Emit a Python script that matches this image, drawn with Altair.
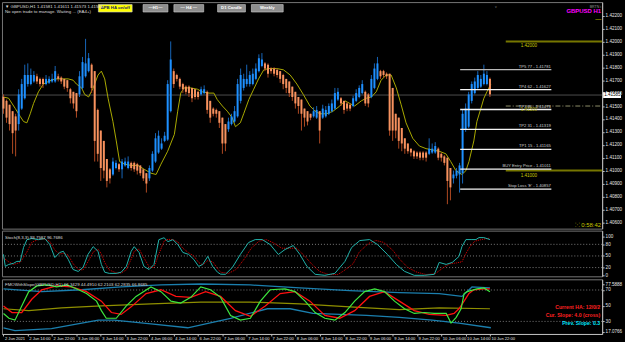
import altair as alt
import pandas as pd

FONT = "Liberation Sans"
W, H_MAIN, H_STO, H_IND = 604, 228, 46, 55
XDOM = [-0.49, 196.9]

# ---------------- Heikin-Ashi bars (GBPUSD H1) ----------------
bar_open = [
 1.4157,1.4154,1.4151,1.4146,1.4142,1.4136,1.4148,1.4156,1.4167,1.4167,
 1.4169,1.4173,1.4171,1.4171,1.4167,1.4168,1.4169,1.4169,1.4173,1.4172,
 1.4171,1.4170,1.4163,1.4161,1.4160,1.4159,1.4164,1.4173,1.4177,1.4182,
 1.4177,1.4147,1.4131,1.4123,1.4109,1.4101,1.4097,1.4102,1.4105,1.4101,
 1.4104,1.4102,1.4106,1.4106,1.4105,1.4104,1.4101,1.4098,1.4094,1.4100,
 1.4107,1.4114,1.4117,1.4123,1.4124,1.4146,1.4177,1.4174,1.4171,1.4167,
 1.4165,1.4165,1.4164,1.4163,1.4161,1.4159,1.4160,1.4161,1.4154,1.4148,
 1.4147,1.4146,1.4141,1.4136,1.4132,1.4136,1.4138,1.4142,1.4154,1.4164,
 1.4167,1.4167,1.4167,1.4171,1.4177,1.4181,1.4183,1.4182,1.4179,1.4179,
 1.4178,1.4177,1.4174,1.4171,1.4169,1.4165,1.4161,1.4157,1.4155,1.4148,
 1.4146,1.4144,1.4142,1.4141,1.4146,1.4141,1.4142,1.4144,1.4146,1.4148,
 1.4155,1.4156,1.4154,1.4152,1.4151,1.4150,1.4154,1.4157,1.4160,1.4161,
 1.4159,1.4157,1.4164,1.4171,1.4177,1.4177,1.4175,1.4175,1.4164,1.4144,
 1.4141,1.4133,1.4125,1.4121,1.4117,1.4115,1.4114,1.4114,1.4114,1.4114,
 1.4113,1.4114,1.4114,1.4117,1.4113,1.4111,1.4110,1.4102,1.4094,1.4096,
 1.4097,1.4098,1.4132,1.4134,1.4154,1.4160,1.4164,1.4165,1.4167,1.4167,
 1.4171]
bar_close = [
 1.4148,1.4141,1.4136,1.4129,1.4131,1.4159,1.4167,1.4174,1.4174,1.4174,
 1.4174,1.4169,1.4167,1.4167,1.4171,1.4171,1.4171,1.4177,1.4171,1.4169,
 1.4165,1.4164,1.4156,1.4152,1.4146,1.4173,1.4184,1.4183,1.4187,1.4164,
 1.4123,1.4113,1.4102,1.4100,1.4092,1.4094,1.4107,1.4106,1.4101,1.4107,
 1.4107,1.4107,1.4102,1.4101,1.4100,1.4098,1.4094,1.4090,1.4102,1.4113,
 1.4125,1.4127,1.4121,1.4127,1.4167,1.4186,1.4167,1.4171,1.4165,1.4163,
 1.4161,1.4160,1.4156,1.4157,1.4157,1.4163,1.4163,1.4147,1.4141,1.4144,
 1.4144,1.4137,1.4121,1.4121,1.4138,1.4142,1.4146,1.4167,1.4174,1.4171,
 1.4171,1.4174,1.4175,1.4179,1.4187,1.4186,1.4179,1.4175,1.4177,1.4175,
 1.4174,1.4171,1.4167,1.4164,1.4160,1.4157,1.4152,1.4150,1.4144,1.4141,
 1.4138,1.4141,1.4146,1.4147,1.4131,1.4148,1.4147,1.4150,1.4152,1.4160,
 1.4161,1.4152,1.4147,1.4148,1.4148,1.4156,1.4160,1.4164,1.4167,1.4152,
 1.4152,1.4171,1.4179,1.4183,1.4173,1.4174,1.4173,1.4131,1.4131,1.4131,
 1.4123,1.4121,1.4117,1.4115,1.4114,1.4111,1.4111,1.4110,1.4110,1.4110,
 1.4117,1.4117,1.4119,1.4110,1.4110,1.4106,1.4092,1.4087,1.4097,1.4100,
 1.4104,1.4144,1.4148,1.4159,1.4167,1.4169,1.4174,1.4171,1.4175,1.4174,
 1.4159]
bar_high = [
 1.4159,1.4155,1.4151,1.4146,1.4144,1.4163,1.4171,1.4182,1.4183,1.4179,
 1.4177,1.4175,1.4172,1.4172,1.4174,1.4173,1.4175,1.4181,1.4175,1.4173,
 1.4171,1.4170,1.4164,1.4161,1.4160,1.4177,1.4188,1.4202,1.4191,1.4183,
 1.4177,1.4148,1.4131,1.4123,1.4109,1.4102,1.4110,1.4108,1.4106,1.4109,
 1.4110,1.4111,1.4107,1.4107,1.4106,1.4104,1.4101,1.4098,1.4104,1.4115,
 1.4129,1.4131,1.4125,1.4130,1.4170,1.4200,1.4179,1.4175,1.4172,1.4168,
 1.4166,1.4166,1.4164,1.4163,1.4162,1.4165,1.4166,1.4162,1.4154,1.4149,
 1.4148,1.4146,1.4141,1.4136,1.4141,1.4144,1.4150,1.4171,1.4179,1.4175,
 1.4182,1.4177,1.4179,1.4183,1.4190,1.4191,1.4184,1.4183,1.4180,1.4180,
 1.4179,1.4177,1.4175,1.4171,1.4169,1.4165,1.4161,1.4157,1.4155,1.4148,
 1.4146,1.4144,1.4149,1.4150,1.4146,1.4151,1.4150,1.4152,1.4155,1.4164,
 1.4164,1.4157,1.4154,1.4153,1.4152,1.4158,1.4163,1.4166,1.4170,1.4162,
 1.4160,1.4174,1.4183,1.4188,1.4178,1.4178,1.4176,1.4175,1.4164,1.4144,
 1.4141,1.4133,1.4125,1.4121,1.4117,1.4116,1.4115,1.4115,1.4115,1.4115,
 1.4125,1.4121,1.4122,1.4118,1.4114,1.4112,1.4110,1.4102,1.4100,1.4102,
 1.4106,1.4147,1.4152,1.4161,1.4169,1.4172,1.4177,1.4174,1.4182,1.4177,
 1.4172]
bar_low = [
 1.4144,1.4137,1.4131,1.4113,1.4111,1.4131,1.4147,1.4155,1.4165,1.4166,
 1.4168,1.4167,1.4165,1.4164,1.4166,1.4167,1.4168,1.4168,1.4169,1.4167,
 1.4163,1.4161,1.4152,1.4148,1.4141,1.4157,1.4163,1.4172,1.4176,1.4160,
 1.4107,1.4107,1.4092,1.4094,1.4087,1.4090,1.4096,1.4101,1.4099,1.4094,
 1.4103,1.4101,1.4100,1.4099,1.4097,1.4096,1.4092,1.4083,1.4092,1.4099,
 1.4106,1.4113,1.4116,1.4122,1.4123,1.4145,1.4164,1.4169,1.4163,1.4160,
 1.4159,1.4157,1.4153,1.4155,1.4155,1.4158,1.4159,1.4144,1.4137,1.4142,
 1.4141,1.4133,1.4113,1.4115,1.4130,1.4135,1.4137,1.4141,1.4152,1.4162,
 1.4165,1.4165,1.4166,1.4170,1.4176,1.4180,1.4177,1.4172,1.4175,1.4173,
 1.4172,1.4168,1.4163,1.4160,1.4157,1.4154,1.4148,1.4144,1.4131,1.4134,
 1.4135,1.4139,1.4141,1.4140,1.4121,1.4140,1.4141,1.4143,1.4145,1.4147,
 1.4154,1.4150,1.4144,1.4146,1.4146,1.4149,1.4153,1.4156,1.4159,1.4150,
 1.4149,1.4156,1.4163,1.4170,1.4171,1.4172,1.4171,1.4127,1.4123,1.4125,
 1.4117,1.4115,1.4113,1.4113,1.4111,1.4109,1.4109,1.4108,1.4108,1.4107,
 1.4112,1.4113,1.4113,1.4108,1.4107,1.4104,1.4074,1.4077,1.4090,1.4094,
 1.4083,1.4090,1.4130,1.4133,1.4152,1.4159,1.4163,1.4164,1.4166,1.4166,
 1.4157]

# moving average (bar index, price)
ma_pts = [(0,1.4157),(1.7,1.4156),(3.9,1.4148),(5.5,1.4142),(6.6,1.4138),(7.7,1.4137),(8.8,1.4144),
 (9.9,1.4152),(11.5,1.4161),(13.1,1.4167),(14.8,1.4169),(16.9,1.4171),(19.1,1.4171),(21.3,1.4171),
 (22.9,1.4170),(24.0,1.4167),(25.7,1.4164),(26.7,1.4159),(28.0,1.4157),(29.5,1.4164),(31.1,1.4174),
 (32.2,1.4177),(33.3,1.4171),(34.4,1.4156),(36.0,1.4138),(37.1,1.4123),(38.2,1.4107),(39.8,1.4105),
 (42.0,1.4104),(44.2,1.4104),(46.3,1.4101),(48.5,1.4098),(50.2,1.4097),(51.8,1.4105),(54.0,1.4115),
 (56.2,1.4128),(57.3,1.4146),(58.3,1.4160),(59.4,1.4164),(61.6,1.4164),(63.8,1.4163),(65.4,1.4161),
 (67.6,1.4160),(69.2,1.4160),(70.3,1.4155),(72.0,1.4150),(73.6,1.4146),(75.2,1.4141),(76.3,1.4134),
 (77.9,1.4137),(79.0,1.4144),(80.7,1.4155),(82.3,1.4163),(83.9,1.4171),(85.6,1.4178),(87.2,1.4179),
 (89.9,1.4179),(92.1,1.4178),(94.3,1.4174),(96.5,1.4167),(98.6,1.4159),(100.8,1.4150),(102.5,1.4146),
 (104.1,1.4144),(106.3,1.4144),(108.4,1.4146),(110.6,1.4150),(112.3,1.4154),(113.9,1.4152),
 (115.5,1.4150),(117.7,1.4154),(119.3,1.4156),(121.0,1.4157),(122.6,1.4161),(124.2,1.4170),
 (125.9,1.4174),(127.5,1.4174),(129.2,1.4164),(130.8,1.4151),(132.4,1.4137),(134.6,1.4125),
 (136.8,1.4119),(139.0,1.4117),(141.1,1.4116),(143.3,1.4115),(145.5,1.4113),(147.1,1.4107),
 (148.8,1.4100),(150.8,1.4097),(152.1,1.4100),(153.1,1.4107),(154.7,1.4123),(155.7,1.4138),
 (157.0,1.4148),(158.0,1.4156),(159.0,1.4161),(160.3,1.4167)]

price_ticks = [1.4060,1.4070,1.4080,1.4090,1.4100,1.4110,1.4120,1.4130,1.4140,1.4150,
               1.4160,1.4170,1.4180,1.4190,1.4200,1.4210,1.4220]
current_price = 1.41585

tp_price = [1.41781, 1.41627, 1.41473, 1.41319, 1.41165, 1.41011, 1.40857]
tp_text = ["TP5 77 - 1.41781", "TP4 62 - 1.41627", "TP3 46 - 1.41473", "TP2 31 - 1.41319",
           "TP1 15 - 1.41165", "BUY Entry Price - 1.41011", "Stop Loss 'E' - 1.40857"]
key_price = [1.42000, 1.41000]
key_text = ["1.42000", "1.41000"]
mid_price = [1.41500]
mid_text = ["1.41500"]

# stochastic (bar index, value)
sto_main = [(0,54),(0.6,23),(1.7,28),(3.3,31),(4.4,36),(5.5,36),(6.6,72),(7.7,92),(9.3,95),(11.5,92),
 (13.6,95),(15.2,80),(16.9,46),(18.5,59),(19.7,62),(21.3,41),(22.9,15),(24.6,10),(26.2,21),(27.8,54),
 (29.5,74),(31.1,62),(32.2,28),(33.3,8),(34.8,5),(37.1,5),(38.7,8),(40.4,23),(42.0,62),(43.0,74),
 (44.6,59),(46.2,23),(47.9,15),(49.5,28),(51.1,92),(52.8,97),(54.1,87),(55.7,92),(57.4,79),(59.0,59),
 (60.9,54),(62.6,41),(64.2,23),(65.5,28),(67.2,49),(68.8,23),(70.4,8),(71.4,3),(73.0,2.6),(75.3,20.5),
 (77.9,53.8),(80.6,84.6),(82.8,92.3),(85.1,92.3),(87.7,79.5),(90.4,53.8),(92.6,66.7),(95.3,76.9),
 (97.5,53.8),(99.8,23.1),(102.5,2.6),(105.7,0),(109.0,5.1),(112.3,35.9),(114.5,71.8),(117.2,89.7),
 (120.4,92.3),(123.0,79.5),(126.3,53.8),(129.2,28.2),(131.9,10.3),(135.1,0),(138.4,0),(141.7,2.6),
 (143.3,33.3),(145.6,28.2),(147.6,33.3),(149.8,48.7),(150.8,74.4),(152.1,92.3),(153.8,92.3),
 (155.4,92.3),(156.4,97.4),(158.0,97.4),(160.0,92.3)]
sto_signal = [(0,45),(1.7,35),(3.3,28),(5.5,33),(7.7,60),(9.3,85),(11.5,93),(13.6,93),(15.2,88),
 (16.9,65),(18.5,55),(19.7,57),(21.3,52),(22.9,30),(24.6,15),(26.2,14),(27.8,35),(29.5,60),(31.1,68),
 (32.2,55),(33.3,33),(34.8,14),(37.1,6),(38.7,6),(40.4,14),(42,42),(43,62),(44.6,68),(46.2,45),
 (47.9,22),(49.5,20),(51.1,55),(52.8,88),(54.1,93),(55.7,92),(57.4,86),(59,70),(60.9,58),(62.6,50),
 (64.2,33),(65.5,27),(67.2,38),(68.8,35),(70.4,18),(71.4,8),(74,5),(76.5,15),(79,40),(81.5,70),
 (84,88),(86.5,92),(89,83),(91.5,70),(94,70),(96.5,70),(99,50),(101.5,28),(104,10),(107,2),(110,2),
 (112,12),(115,30),(117,60),(120,82),(122.5,90),(125,85),(128,65),(130.5,40),(133,20),(136,8),
 (139,2),(142,4),(145,22),(147,30),(149,32),(150.8,35),(152,55),(153.5,75),(155,88),(157,92),
 (159,95),(160,96)]
sto_levels = [20, 50, 80]
sto_ticks = [0, 20, 50, 80, 100]

# lower indicator panel (bar index, value)
ind_green = [(0,40.1),(1.8,34.0),(3.8,31.6),(6.0,49.7),(8.3,67.9),(11.0,75.2),(14.2,76.4),(17.5,73.9),
 (20.8,76.4),(24.0,71.5),(27.3,65.5),(30.6,55.8),(32.2,43.7),(33.8,34.0),(37.1,34.0),(40.4,49.7),
 (43.6,61.8),(48.5,73.9),(51.8,67.9),(55.1,55.8),(58.3,53.4),(61.6,60.6),(64.9,73.9),(68.1,70.3),
 (71.4,60.6),(74.7,37.6),(77.9,31.6),(81.2,34.0),(84.5,55.8),(87.7,70.3),(92.6,71.5),(95.9,67.9),
 (99.2,55.8),(102.5,41.3),(105.7,34.0),(109.0,31.6),(112.3,41.3),(115.5,55.8),(118.8,67.9),
 (122.1,71.5),(125.3,67.9),(128.6,55.8),(131.9,46.1),(135.1,40.1),(138.4,41.3),(141.7,40.1),
 (145.6,40.1),(147.2,27.9),(148.9,35.2),(150.5,46.1),(151.5,65.5),(152.5,67.9),(155.7,71.5),
 (158.0,72.7),(160.0,67.9)]
ind_red = [(0,49.7),(2.8,41.3),(6.0,41.3),(9.3,58.2),(12.6,70.3),(17.5,75.2),(22.4,73.9),(27.3,67.9),
 (32.2,55.8),(35.5,41.3),(38.7,38.9),(42.0,48.5),(46.9,65.5),(51.8,70.3),(56.7,61.8),(61.6,60.6),
 (66.5,67.9),(71.4,61.8),(76.3,43.7),(81.2,36.4),(86.1,49.7),(91.0,65.5),(95.9,67.9),(100.8,55.8),
 (105.7,37.6),(110.6,34.0),(115.5,43.7),(120.4,61.8),(125.3,67.9),(130.2,55.8),(135.1,43.7),
 (140.0,38.9),(145.6,37.6),(148.2,40.1),(149.8,46.1),(151.5,55.8),(153.1,65.5),(154.7,70.3),
 (158.0,71.5),(160.0,71.5)]
ind_olive = [(0,46.1),(8.3,43.7),(19.1,47.3),(32.2,49.7),(48.5,52.2),(64.9,54.6),(81.2,54.6),
 (97.5,52.2),(113.9,48.5),(130.2,44.9),(143.3,47.3),(160.0,46.1)]
ind_upper = [(0,71.5),(12.6,67.9),(25.7,70.3),(38.7,73.9),(51.8,76.4),(64.9,77.6),(81.2,76.4),
 (97.5,72.7),(113.9,69.1),(130.2,66.7),(143.3,65.5),(150.8,61.8),(154.1,73.9),(160.0,72.7)]
ind_lower = [(0,21.9),(3.8,18.3),(15.8,20.7),(31.2,31.6),(36.4,31.6),(48.5,26.8),(60.6,21.9),
 (74.7,34.0),(86.8,46.1),(94.3,46.1),(101.8,40.1),(119.4,37.6),(130.2,35.2),(141.0,31.6),
 (149.8,27.9),(160.3,21.9)]
ind_levels = [30, 70]
ind_ticks = [17.0766, 30, 50, 70, 77.5888]

time_ticks = [0, 8, 16, 24, 32, 40, 48, 56, 64, 72, 80, 88, 96, 104, 112, 120, 128, 136, 144, 152, 160]
time_labels = ["2 Jun 2021", "2 Jun 14:00", "2 Jun 22:00", "3 Jun 06:00", "3 Jun 14:00", "3 Jun 22:00",
               "4 Jun 06:00", "4 Jun 14:00", "6 Jun 22:00", "7 Jun 06:00", "7 Jun 14:00", "7 Jun 22:00",
               "8 Jun 06:00", "8 Jun 14:00", "8 Jun 22:00", "9 Jun 06:00", "9 Jun 14:00", "9 Jun 22:00",
               "10 Jun 06:00", "10 Jun 14:00", "10 Jun 22:00"]

# ---------------- helpers ----------------
def pts(p):
    return pd.DataFrame({"i": [a for a, _ in p], "v": [b for _, b in p]})

def txt(text, x, y, color="#d8d8d8", size=4.6, align="left", weight="normal", baseline="middle"):
    return alt.Chart(pd.DataFrame({"t": [text]})).mark_text(
        align=align, baseline=baseline, color=color, fontSize=size, fontWeight=weight, font=FONT
    ).encode(text="t:N", x=alt.value(x), y=alt.value(y))

def axis_right(values, **kw):
    return alt.Axis(orient="right", values=values, labelFontSize=4.6, labelColor="#e6e6e6",
                    tickColor="#bdbdbd", tickSize=2, labelPadding=1, domainColor="#bdbdbd",
                    grid=False, title=None, labelFont=FONT, labelOverlap=False, **kw)

xs = alt.Scale(domain=XDOM, nice=False, zero=False)
XI = alt.X("i:Q", scale=xs, axis=None)
top_p = 1.423046
ys = alt.Scale(domain=[top_p - H_MAIN * 0.01 / 130, top_p], nice=False, zero=False)
price_axis = axis_right(price_ticks, format=".5f")

def PY(field):
    return alt.Y(field, scale=ys, axis=price_axis)

bars = pd.DataFrame({"i": list(range(len(bar_open))), "o": bar_open, "h": bar_high,
                     "l": bar_low, "c": bar_close})
is_up = "datum.c >= datum.o"

cur = alt.Chart(pd.DataFrame({"p": [current_price]})).mark_rule(color="#4d4d4d", strokeWidth=1).encode(
    y=PY("p:Q"))

key_df = pd.DataFrame({"p": key_price, "t": key_text})
key_rules = alt.Chart(key_df).mark_rule(color="#767600", strokeWidth=2).encode(
    x=alt.X(datum=165.2, scale=xs, axis=None), x2=alt.X2(datum=XDOM[1]), y=PY("p:Q"))
key_lbl = alt.Chart(key_df).mark_text(align="left", baseline="top", dy=2, color="#c8c800",
                                      fontSize=4.6, font=FONT).encode(
    x=alt.X(datum=170.1, scale=xs, axis=None), y=PY("p:Q"), text="t:N")
mid_df = pd.DataFrame({"p": mid_price, "t": mid_text})
mid_rule = alt.Chart(mid_df).mark_rule(color="#8f8f6a", strokeWidth=1, strokeDash=[5, 2, 1, 2]).encode(
    x=alt.X(datum=165.2, scale=xs, axis=None), x2=alt.X2(datum=XDOM[1]), y=PY("p:Q"))
mid_lbl = alt.Chart(mid_df).mark_text(align="left", baseline="top", dy=1, color="#a0a000",
                                      fontSize=4.6, font=FONT).encode(
    x=alt.X(datum=170.1, scale=xs, axis=None), y=PY("p:Q"), text="t:N")

ma = alt.Chart(pts(ma_pts)).mark_line(color="#a9a900", strokeWidth=1).encode(x=XI, y=PY("v:Q"))

wicks = alt.Chart(bars).mark_rule(strokeWidth=1).encode(
    x=XI, y=PY("l:Q"), y2="h:Q",
    color=alt.condition(is_up, alt.value("#1766b8"), alt.value("#b04a22")))
bodies = alt.Chart(bars).mark_rule(strokeWidth=2).encode(
    x=XI, y=PY("o:Q"), y2="c:Q",
    color=alt.condition(is_up, alt.value("#1e90ff"), alt.value("#f7925f")))

tp_df = pd.DataFrame({"p": tp_price, "t": tp_text})
tp_rules = alt.Chart(tp_df).mark_rule(strokeWidth=1.3).encode(
    x=alt.X(datum=150.2, scale=xs, axis=None), x2=alt.X2(datum=180.2), y=PY("p:Q"),
    color=alt.condition("datum.p > 1.4170", alt.value("#b8b8b8"), alt.value("#f4f4f4")))
tp_lbl = alt.Chart(tp_df).mark_text(align="right", baseline="bottom", dy=-1, color="#cfcfcf",
                                    fontSize=4.2, font=FONT).encode(
    x=alt.X(datum=180.0, scale=xs, axis=None), y=PY("p:Q"), text="t:N")

cur_box = alt.Chart(pd.DataFrame({"p": [current_price]})).mark_rule(color="#ffffff", strokeWidth=6).encode(
    x=alt.value(W + 1), x2=alt.value(W + 19), y=PY("p:Q"))
cur_txt = alt.Chart(pd.DataFrame({"p": [current_price], "t": ["1.41585"]})).mark_text(
    align="left", baseline="middle", color="#000000", fontSize=4.6, font=FONT).encode(
    x=alt.value(W + 2), y=PY("p:Q"), text="t:N")

btn_df = pd.DataFrame({
    "t": ["APB HA on/off", "\u2014H1\u2014", "\u2014 H4 \u2014", "D1 Candle", "Weekly"],
    "x0": [97, 142, 173, 217, 251], "x1": [131, 167, 203, 245, 283],
    "fill": ["#ffff00", "#8e8e8e", "#8e8e8e", "#8e8e8e", "#8e8e8e"],
    "fg": ["#1a1a60", "#ffffff", "#ffffff", "#ffffff", "#ffffff"]})
btn_df["xm"] = [(a + b) / 2 for a, b in zip(btn_df["x0"], btn_df["x1"])]
btn_rect = alt.Chart(btn_df).mark_rect(stroke="#d0d0d0", strokeWidth=0.6).encode(
    x=alt.X("x0:Q", scale=None), x2="x1:Q", y=alt.value(2.5), y2=alt.value(10),
    fill=alt.Fill("fill:N", scale=None))
btn_txt = alt.Chart(btn_df).mark_text(fontSize=4.3, fontWeight="bold", font=FONT, baseline="middle").encode(
    x=alt.X("xm:Q", scale=None), y=alt.value(6.3), text="t:N", color=alt.Color("fg:N", scale=None))

main = alt.layer(
    cur, key_rules, mid_rule, ma, wicks, bodies, tp_rules, tp_lbl, key_lbl, mid_lbl, cur_box, cur_txt,
    btn_rect, btn_txt,
    txt("\u25bc GBPUSD,H1  1.41581 1.41611 1.41573 1.41585", 3, 2.5, "#dcdcdc", 4.4, baseline="top"),
    txt("No open trade to manage. Waiting ... (EA4+)", 3, 8, "#dcdcdc", 4.4, baseline="top"),
    txt("BRTN i", 603, 2.5, "#9a9a9a", 3.6, align="right", baseline="top"),
    txt("GBPUSD H1", 603, 6, "#ff00ff", 6, align="right", weight="bold", baseline="top"),
    txt("\u2014", 603, 17, "#e8e800", 6, align="right"),
    txt("v", 497, 2.5, "#8a8a8a", 3.5, align="center", baseline="top"),
    txt("\u2059 0:58:42", 603, 224.5, "#c8c800", 6, align="right"),
).properties(width=W, height=H_MAIN)

# ---------------- stochastic ----------------
ss = alt.Scale(domain=[-2.6, 115.4], nice=False, zero=False)
sto_axis = axis_right(sto_ticks, format="d")
sto_lv = alt.Chart(pd.DataFrame({"v": sto_levels})).mark_rule(
    color="#9a9a9a", strokeWidth=0.8, strokeDash=[1, 2]).encode(y=alt.Y("v:Q", scale=ss, axis=sto_axis))
sto_m = alt.Chart(pts(sto_main)).mark_line(color="#20b2aa", strokeWidth=1).encode(
    x=XI, y=alt.Y("v:Q", scale=ss, axis=sto_axis))
sto_s = alt.Chart(pts(sto_signal)).mark_line(color="#e00000", strokeWidth=1, strokeDash=[1, 1]).encode(
    x=XI, y=alt.Y("v:Q", scale=ss, axis=sto_axis))
sto = alt.layer(
    sto_lv, sto_s, sto_m,
    txt("Stoch(8,3,3) 93.7587 96.7686", 3, 7, "#dcdcdc", 4.4),
).properties(width=W, height=H_STO)

# ---------------- lower indicator ----------------
isc = alt.Scale(domain=[14.0, 83.6], nice=False, zero=False)
time_expr = "[" + ",".join("'" + t + "'" for t in time_labels) + "][round(datum.value / 8)]"
x_axis = alt.Axis(values=time_ticks, labelExpr=time_expr, labelAlign="left", labelFontSize=4.1,
                  labelColor="#e6e6e6", tickColor="#bdbdbd", tickSize=2, labelPadding=0.5,
                  domainColor="#bdbdbd", grid=False, title=None, labelOverlap=False,
                  labelFlush=False, labelFont=FONT, labelBaseline="top", labelOffset=1)
XB = alt.X("i:Q", scale=xs, axis=x_axis)
ind_axis = axis_right(ind_ticks, labelExpr="toString(datum.value)")
IY = alt.Y("v:Q", scale=isc, axis=ind_axis)
ind_lv = alt.Chart(pd.DataFrame({"v": ind_levels})).mark_rule(
    color="#9a9a9a", strokeWidth=0.8, strokeDash=[1, 2]).encode(y=IY)

def ind_line(p, color, width=1.2):
    return alt.Chart(pts(p)).mark_line(color=color, strokeWidth=width).encode(x=XB, y=IY)

ind = alt.layer(
    ind_lv,
    ind_line(ind_upper, "#1b7fae", 1.3), ind_line(ind_lower, "#1b7fae", 1.3),
    ind_line(ind_olive, "#8f8f00", 1.2), ind_line(ind_red, "#ff1010", 1.3),
    ind_line(ind_green, "#3ee63e", 1.2),
    txt("FMOWithSlope(GBPUSD,H1) 66.3429 44.4910 62.2103 62.2835 66.8685", 3, 6, "#dcdcdc", 4.4),
    txt("Current HA: 12/0/2", 602, 28, "#ff2020", 5.2, align="right", weight="bold"),
    txt("Cur. Slope: 4.0 (cross)", 602, 36, "#ff2020", 5.2, align="right", weight="bold"),
    txt("Prev. Slope: 0.3", 602, 44, "#00e8ff", 5.2, align="right", weight="bold"),
).properties(width=W, height=H_IND)

chart = alt.vconcat(main, sto, ind, spacing=0).resolve_scale(
    x="independent", y="independent"
).properties(padding=0).configure(background="#000000", font=FONT).configure_view(
    stroke="#767676", strokeWidth=1)

chart.save("out.html", embed_options={"renderer": "svg", "actions": False})
